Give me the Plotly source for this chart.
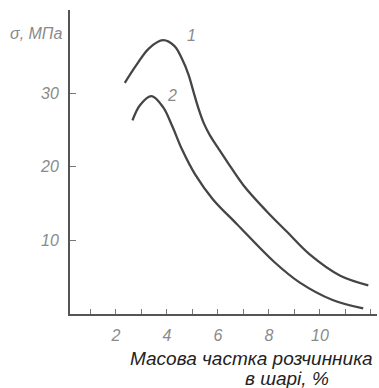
import plotly.graph_objects as go

# Curve 1
x1 = [2.35, 2.8, 3.3, 3.85, 4.3, 4.6, 4.85, 5.05, 5.25, 5.45, 5.7, 6.0, 6.4, 7.0, 7.9, 8.7, 9.6, 10.8, 11.9]
y1 = [31.4, 33.8, 36.1, 37.2, 36.4, 34.6, 32.5, 30.1, 27.8, 25.9, 24.2, 22.6, 20.5, 17.5, 14.0, 11.2, 8.1, 5.2, 3.9]
# Curve 2
x2 = [2.65, 2.95, 3.4, 3.85, 4.2, 4.6, 5.1, 5.8, 6.75, 8.2, 9.2, 10.5, 11.7]
y2 = [26.3, 28.4, 29.6, 28.1, 25.6, 22.3, 19.0, 15.6, 12.2, 7.1, 4.3, 1.9, 0.75]

x_ticks = [2, 4, 6, 8, 10]
y_ticks = [10, 20, 30]
curve_labels = ["1", "2"]
x_title_1 = "Масова частка розчинника"
x_title_2 = "в шарі, %"
y_title = "σ, МПа"

W, H = 379, 388
L, R, T, B = 70, 2, 10, 74

line_col = "#454545"
gray = "#8a8a8a"
font_fam = "Liberation Sans, DejaVu Sans, sans-serif"

fig = go.Figure()
fig.add_trace(go.Scatter(x=x1, y=y1, mode="lines", line=dict(color=line_col, width=2.3, shape="spline", smoothing=1.0), showlegend=False))
fig.add_trace(go.Scatter(x=x2, y=y2, mode="lines", line=dict(color=line_col, width=2.3, shape="spline", smoothing=1.0), showlegend=False))

fig.update_layout(
    width=W, height=H,
    margin=dict(l=L, r=R, t=T, b=B, pad=0),
    paper_bgcolor="white", plot_bgcolor="white",
    showlegend=False,
    xaxis=dict(
        range=[0.2, 12.24], showgrid=False, zeroline=False,
        showline=True, linecolor="#555", linewidth=2,
        tickmode="array", tickvals=x_ticks, ticktext=[str(v) for v in x_ticks],
        ticks="inside", ticklen=5, tickwidth=1, tickcolor="#777",
        minor=dict(dtick=1, tick0=0, ticks="inside", ticklen=5, tickwidth=1, tickcolor="#777"),
        tickfont=dict(family=font_fam, size=16, color=gray, style="italic"),
        ticklabelstandoff=6,
    ),
    yaxis=dict(
        range=[0, 41.3], showgrid=False, zeroline=False,
        showline=True, linecolor="#555", linewidth=2,
        tickmode="array", tickvals=y_ticks, ticktext=[str(v) for v in y_ticks],
        ticks="inside", ticklen=6, tickwidth=1, tickcolor="#777",
        tickfont=dict(family=font_fam, size=16, color=gray, style="italic"),
        ticklabelstandoff=6,
    ),
)

# curve labels
fig.add_annotation(x=4.98, y=37.9, xref="x", yref="y", text=curve_labels[0], showarrow=False,
                   font=dict(family=font_fam, size=16, color=gray, style="italic"))
fig.add_annotation(x=4.2, y=29.7, xref="x", yref="y", text=curve_labels[1], showarrow=False,
                   font=dict(family=font_fam, size=16, color=gray, style="italic"))

# y title
fig.add_annotation(x=(36 - L) / 307, y=(314 - 33) / 304, xref="paper", yref="paper", text=y_title,
                   showarrow=False, xanchor="center", yanchor="middle",
                   font=dict(family=font_fam, size=16, color=gray, style="italic"))
# x title
fig.add_annotation(x=(375 - L) / 307, y=(314 - 358) / 304, xref="paper", yref="paper", text=x_title_1,
                   showarrow=False, xanchor="right", yanchor="middle",
                   font=dict(family=font_fam, size=19, color="#222", style="italic"))
fig.add_annotation(x=(287 - L) / 307, y=(314 - 378) / 304, xref="paper", yref="paper", text=x_title_2,
                   showarrow=False, xanchor="center", yanchor="middle",
                   font=dict(family=font_fam, size=19, color="#222", style="italic"))

fig.write_html("out.html", config={"displayModeBar": False},
               post_script="document.body.style.margin='0';")
